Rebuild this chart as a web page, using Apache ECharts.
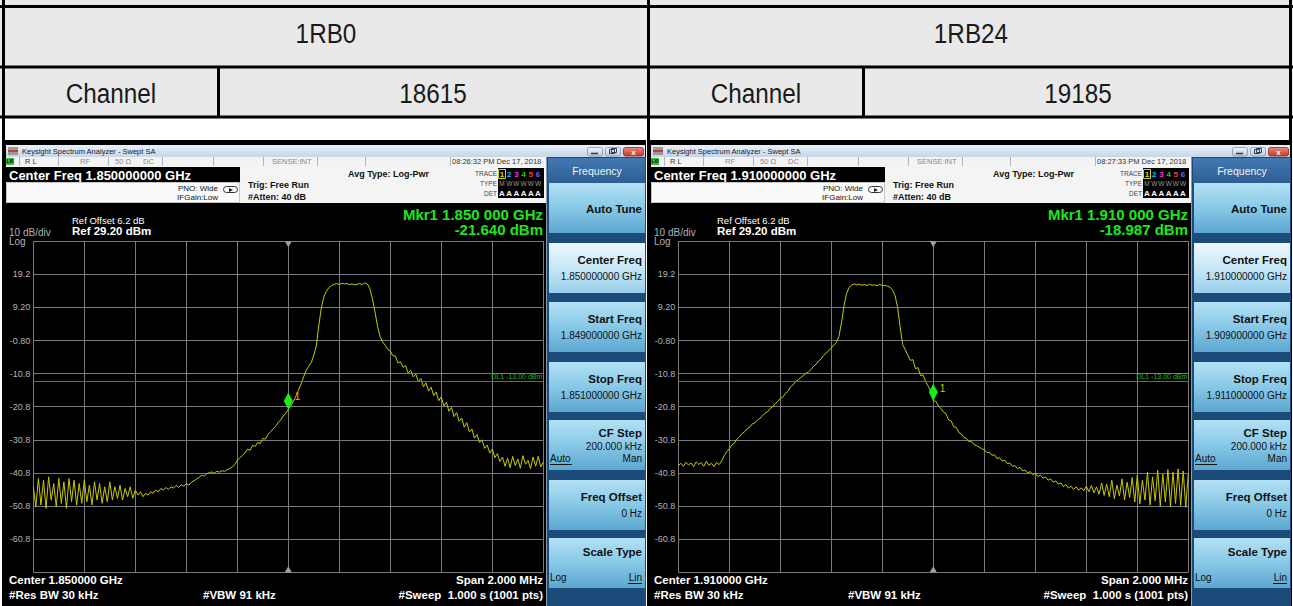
<!DOCTYPE html>
<html>
<head>
<meta charset="utf-8">
<script src="https://cdn.jsdelivr.net/npm/echarts@6/dist/echarts.min.js"></script>
<style>
html,body{margin:0;padding:0;background:#fff;}
#c{width:1293px;height:606px;}
</style>
</head>
<body>
<div id="c"></div>
<script>
// ---- test configuration, one entry per capture ----
const rbLabels = ['1RB0', '1RB24'];
const channelNumbers = ['18615', '19185'];
const centerFreqGHz = ['1.850000000', '1.910000000'];
const centerShortGHz = ['1.850000', '1.910000'];
const startFreqGHz = ['1.849000000', '1.909000000'];
const stopFreqGHz = ['1.851000000', '1.911000000'];
const markerFreqText = ['1.850 000', '1.910 000'];
const markerOffsetKHz = [0, 0];
const markerDbm = [-21.64, -18.987];
const captureTimes = ['08:26:32 PM', '08:27:33 PM'];
const captureDate = 'Dec 17, 2018';

// ---- analyzer scale ----
const refLevelDbm = 29.2;
const bottomDbm = -70.8;
const dbPerDiv = 10;
const displayLineDbm = -13;
const spanKHz = 2000;
const sampleStepKHz = 10;
const yTickLabels = ['19.2', '9.20', '-0.80', '-10.8', '-20.8', '-30.8', '-40.8', '-50.8', '-60.8'];

// ---- trace 1, 10 kHz steps from start to stop frequency (dBm) ----
const traceRB0 = [
  -45, -51, -42.5, -50.5, -43, -51.5, -42, -49, -44, -51,
  -42.5, -50, -43.5, -51.5, -42.5, -49.5, -43, -50.5, -44, -50,
  -43, -49.5, -44.5, -50.5, -43.5, -49, -44, -50, -45, -49.5,
  -43.5, -49, -45, -48.5, -44.5, -49, -45.5, -48, -45, -48.5,
  -46, -47.5, -46.5, -48, -47, -47.5, -46.5, -47, -46, -46.5,
  -45.5, -46, -45.2, -45.8, -45, -45.4, -44.6, -45.2, -44.4, -44.8,
  -44, -44.5, -43.6, -43.2, -42.6, -42.2, -41.5, -41.8, -41, -40.8,
  -40.5, -40.9, -40.3, -40.6, -40.1, -40.4, -39.8, -39.5, -39, -38.3,
  -37, -36.2, -35.5, -34.8, -33.6, -34, -32.5, -32.8, -31.6, -31.9,
  -30.4, -30.6, -29.2, -28.4, -27.5, -26.8, -25.6, -24.8, -23.6, -22.8,
  -21.64, -20.5, -19.2, -17.6, -15.8, -13.9, -11.8, -9.8, -8.6, -7.5,
  -5.2, -2.4, 4, 9.2, 12.6, 14.2, 15.2, 15.8, 16.2, 16.4,
  16.1, 16.5, 16.3, 16.4, 16.1, 16.3, 16.0, 16.2, 16.4, 16.1,
  16.6, 16.3, 14.8, 11.8, 7.8, 3.5, 0.4, -1.3, -2.2, -3.5,
  -4.0, -5.4, -5.5, -7.6, -7.2, -8.9, -8.4, -10.6, -9.8, -11.8,
  -11, -13.2, -12.3, -14.8, -13.6, -16.0, -14.9, -17.4, -16.4, -19.0,
  -17.8, -20.6, -19.5, -22.2, -21.0, -23.8, -22.6, -25.2, -24.2, -27.0,
  -25.6, -28.4, -27.5, -30.3, -29.2, -31.6, -30.8, -33.4, -32.4, -34.8,
  -33.6, -36.2, -35.0, -37.4, -36.0, -38.8, -36.4, -39.2, -35.8, -38.6,
  -36.6, -39.4, -35.6, -38.2, -37, -39.5, -36, -38.8, -35.8, -39,
  -37.5
];

// ---- trace 2, 10 kHz steps from start to stop frequency (dBm) ----
const traceRB24 = [
  -38.6, -37.9, -38.8, -37.6, -38.4, -37.8, -38.9, -37.5, -38.2, -37.7,
  -38.8, -37.3, -38.5, -37.9, -38.9, -37.6, -38.3, -37.2, -35.6, -34.4,
  -33.5, -32.4, -31.8, -30.6, -29.9, -28.9, -28.4, -27.4, -27.0, -26.0,
  -25.7, -24.9, -24.3, -23.6, -22.8, -22.3, -21.4, -20.8, -19.9, -19.2,
  -18.3, -17.9, -16.8, -16.2, -14.8, -14.2, -13.2, -12.7, -12.0, -11.4,
  -10.8, -10.3, -9.6, -8.6, -8.0, -7.0, -6.4, -5.3, -4.6, -3.9,
  -3.0, -2.2, -1.4, 0.4, 4.6, 9.8, 13.4, 15.2, 15.9, 16.3,
  16.0, 16.2, 15.9, 16.1, 15.8, 16.2, 15.9, 16.0, 15.8, 16.2,
  15.7, 15.9, 15.6, 15.3, 14.4, 12.8, 9.2, 3.2, -2.0, -3.6,
  -5.2, -6.8, -6.6, -9.3, -9.0, -11.4, -11.2, -13.2, -14.6, -16.2,
  -18.987, -19.2, -20.6, -21.3, -22.4, -23.0, -24.8, -25.1, -26.8, -27.1,
  -28.6, -29.0, -30.1, -30.4, -31.4, -31.3, -32.3, -32.6, -33.0, -33.5,
  -33.8, -34.6, -34.6, -35.5, -35.3, -36.5, -36.2, -37.2, -37.0, -38.0,
  -37.8, -38.8, -38.6, -39.5, -39.1, -40.2, -39.9, -40.8, -40.4, -41.3,
  -40.9, -41.9, -41.5, -42.4, -42.0, -43.0, -42.6, -43.6, -43.2, -44.2,
  -43.8, -45.0, -44.3, -45.4, -44.8, -45.8, -45.0, -46.0, -45.3, -46.2,
  -44.8, -46.5, -44.6, -46.8, -45.0, -47.2, -43.8, -47.6, -44.2, -48.0,
  -43.0, -48.6, -44.5, -47.8, -42.6, -49.0, -43.6, -48.2, -42.2, -49.6,
  -41.5, -50.2, -43.0, -49.0, -40.5, -50.5, -42.0, -49.2, -40.0, -50.8,
  -41.2, -49.6, -39.8, -51.0, -40.6, -50.0, -39.6, -50.6, -40.2, -51.2,
  -41.0
];
const traces = [traceRB0, traceRB24];

// ---- softkey menu ----
const softkeyTitles = ['Auto Tune', 'Center Freq', 'Start Freq', 'Stop Freq', 'CF Step', 'Freq Offset', 'Scale Type'];

// ------------------------------------------------------------------
const FONT = '"Liberation Sans", Arial, Helvetica, sans-serif';
const PANEL_SHIFT = 645;
const elements = [];

function vgrad(stops) {
  return new echarts.graphic.LinearGradient(0, 0, 0, 1,
    stops.map((s) => ({ offset: s[0], color: s[1] })));
}
function rect(x, y, w, h, fill, stroke, lw, r) {
  elements.push({
    type: 'rect', silent: true,
    shape: { x: x, y: y, width: w, height: h, r: r || 0 },
    style: { fill: fill || 'none', stroke: stroke || null, lineWidth: lw || 0 }
  });
}
function line(x1, y1, x2, y2, color, w) {
  elements.push({
    type: 'line', silent: true,
    shape: { x1: x1, y1: y1, x2: x2, y2: y2 },
    style: { stroke: color, lineWidth: w || 1 }
  });
}
function poly(points, fill) {
  elements.push({ type: 'polygon', silent: true, shape: { points: points }, style: { fill: fill } });
}
function text(x, y, str, size, color, opt) {
  opt = opt || {};
  const al = opt.align || 'left';
  elements.push({
    type: 'text', silent: true, x: x, y: y,
    scaleX: opt.sx || 1,
    style: {
      text: str, fill: color, fontSize: size,
      fontWeight: opt.bold ? 'bold' : 'normal',
      fontFamily: opt.family || FONT,
      align: al, textAlign: al,
      verticalAlign: 'middle', textVerticalAlign: 'middle'
    }
  });
}

// ---- table ----
rect(0, 0, 1293, 606, '#ffffff');
rect(0, 0, 1293, 6, '#e9e9e9');
rect(0, 8, 1293, 58, '#e9e9e9');
rect(0, 68, 1293, 48, '#e9e9e9');
line(0, 6.5, 1293, 6.5, '#000', 3);
line(0, 67, 1293, 67, '#000', 3);
line(0, 117, 1293, 117, '#000', 3);
line(3.5, 0, 3.5, 606, '#000', 3);
line(648.5, 0, 648.5, 606, '#000', 3);
line(1290.5, 0, 1290.5, 606, '#000', 3);
line(218.5, 67, 218.5, 117, '#000', 3);
line(863.5, 67, 863.5, 117, '#000', 3);
for (let p = 0; p < 2; p++) {
  const o = p * PANEL_SHIFT;
  text(326 + o, 34, rbLabels[p], 27, '#1a1a1a', { align: 'center', sx: 0.9 });
  text(111 + o, 94, 'Channel', 27, '#1a1a1a', { align: 'center', sx: 0.9 });
  text(433 + o, 94, channelNumbers[p], 27, '#1a1a1a', { align: 'center', sx: 0.9 });
}

// ---- analyzer window chrome ----
function drawWindow(p) {
  const o = p * PANEL_SHIFT;
  const X = (v) => v + o;

  // frame and black display
  rect(X(5), 140, 641, 466, '#000');

  // title bar
  rect(X(6), 145, 639, 12, vgrad([[0, '#e8f0f9'], [1, '#c5d6ea']]));
  rect(X(8), 147, 10, 8, '#9a9a9a');
  rect(X(8), 150, 10, 2, '#d23a30');
  text(X(22), 151, 'Keysight Spectrum Analyzer - Swept SA', 7.5, '#1b1b1b');
  rect(X(587.5), 147.5, 15, 8.5, vgrad([[0, '#f2f6fb'], [1, '#b7c9e0']]), '#7d93b3', 0.8, 2);
  line(X(591), 153.5, X(598), 153.5, '#2b3c55', 1.5);
  rect(X(605.5), 147.5, 15, 8.5, vgrad([[0, '#f2f6fb'], [1, '#b7c9e0']]), '#7d93b3', 0.8, 2);
  rect(X(609.5), 149.5, 5, 4, null, '#2b3c55', 1);
  rect(X(611.5), 148.5, 5, 4, null, '#2b3c55', 1);
  rect(X(623.5), 147.5, 20, 8.5, vgrad([[0, '#ec8a78'], [1, '#c13a2a']]), '#8a2a20', 0.8, 2);
  text(X(633.5), 152, 'x', 8, '#fff', { align: 'center', bold: true });

  // status row
  rect(X(6), 157, 540, 9, '#f3f3f3');
  [19, 58, 108, 162, 213, 263, 317, 365, 450].forEach((d) => line(X(d) + 0.5, 157, X(d) + 0.5, 166, '#b5b5b5', 1));
  rect(X(6), 158, 8, 7, '#3dbb3d');
  text(X(10), 161.5, 'LXI', 4.5, '#000', { align: 'center', bold: true });
  text(X(25), 161.5, 'R L', 7.5, '#333');
  text(X(80), 161.5, 'RF', 7.5, '#8a8a8a');
  text(X(115), 161.5, '50 \u03a9', 7.5, '#8a8a8a');
  text(X(143), 161.5, 'DC', 7.5, '#8a8a8a');
  text(X(272), 161.5, 'SENSE:INT', 7.5, '#8a8a8a');
  text(X(452), 161.5, captureTimes[p] + ' ' + captureDate, 7.5, '#333');

  // settings header
  rect(X(6), 166, 540, 37, '#f4f4f4');
  rect(X(6), 167, 234, 15, '#000');
  text(X(9), 175, 'Center Freq ' + centerFreqGHz[p] + ' GHz', 13, '#fff', { bold: true });
  rect(X(6.5), 182.5, 233, 20, '#fafafa', '#c6c6c6', 1);
  text(X(218), 188.5, 'PNO: Wide', 8, '#111', { align: 'right' });
  text(X(218), 197.5, 'IFGain:Low', 8, '#111', { align: 'right' });
  rect(X(223.5), 186.5, 14, 6, null, '#333', 1, 3);
  poly([[X(229), 188], [X(233), 190], [X(229), 192]], '#222');
  text(X(248), 185, 'Trig: Free Run', 9, '#111', { bold: true });
  text(X(248), 196.5, '#Atten: 40 dB', 9, '#111', { bold: true });
  text(X(348), 173.5, 'Avg Type: Log-Pwr', 9, '#111', { bold: true });
  text(X(497), 173.5, 'TRACE', 6.5, '#444', { align: 'right' });
  text(X(497), 183.5, 'TYPE', 6.5, '#444', { align: 'right' });
  text(X(497), 193, 'DET', 6.5, '#444', { align: 'right' });
  rect(X(498), 168, 46, 30, '#000');
  const traceColors = ['#d8d800', '#00c8ff', '#ff30ff', '#00dd00', '#ff3838', '#7060ff'];
  for (let k = 0; k < 6; k++) {
    const cx = X(502 + 7.2 * k);
    text(cx, 174, String(k + 1), 8, traceColors[k], { align: 'center', bold: true });
    text(cx, 183.5, k === 0 ? 'M' : 'W', 6.5, '#9a9a9a', { align: 'center' });
    text(cx, 193, 'A', 8, '#fff', { align: 'center', bold: true });
  }
  rect(X(498.5), 169.5, 7, 9, null, '#d8d800', 1);

  // display annotations
  text(X(72), 220, 'Ref Offset 6.2 dB', 9.5, '#fff');
  text(X(72), 231, 'Ref ' + refLevelDbm.toFixed(2) + ' dBm', 11.5, '#fff', { bold: true });
  text(X(9), 232.5, dbPerDiv + ' dB/div', 10, '#b0b0b0');
  text(X(9), 241, 'Log', 10, '#b0b0b0');
  text(X(543), 214, 'Mkr1 ' + markerFreqText[p] + ' GHz', 15, '#1ee61e', { bold: true, align: 'right' });
  text(X(543), 229, markerDbm[p].toFixed(3) + ' dBm', 15, '#1ee61e', { bold: true, align: 'right' });
  text(X(9), 580, 'Center ' + centerShortGHz[p] + ' GHz', 11.5, '#fff', { bold: true });
  text(X(9), 595, '#Res BW 30 kHz', 11.5, '#fff', { bold: true });
  text(X(203), 595, '#VBW 91 kHz', 11.5, '#fff', { bold: true });
  text(X(543), 580, 'Span ' + (spanKHz / 1000).toFixed(3) + ' MHz', 11.5, '#fff', { bold: true, align: 'right' });
  text(X(543), 595, '#Sweep\u00a0 1.000 s (1001 pts)', 11.5, '#fff', { bold: true, align: 'right' });

  // softkey panel
  rect(X(546), 157, 100, 449, '#1c4a79');
  line(X(546.5), 157, X(546.5), 606, '#8a9bb0', 1);
  rect(X(548), 158, 97, 25, vgrad([[0, '#4478b0'], [1, '#2c5e95']]));
  text(X(597), 170.5, 'Frequency', 10.5, '#f0f4fa', { align: 'center' });
  const tops = [183, 243, 302, 362, 420, 480, 538];
  const values = ['', centerFreqGHz[p] + ' GHz', startFreqGHz[p] + ' GHz', stopFreqGHz[p] + ' GHz', '200.000 kHz', '0 Hz', ''];
  for (let k = 0; k < tops.length; k++) {
    const t = tops[k];
    const fill = k === 1
      ? vgrad([[0, '#eef8fd'], [0.5, '#c6e7f6'], [1, '#98d0ec']])
      : vgrad([[0, '#b3e1f4'], [0.45, '#8ccbe8'], [1, '#5ca7d1']]);
    rect(X(549), t, 96, 50, fill);
    const title = softkeyTitles[k];
    if (k === 0) {
      text(X(642), t + 26, title, 11.5, '#111', { bold: true, align: 'right' });
    } else if (k === 4) {
      text(X(642), t + 13, title, 11.5, '#111', { bold: true, align: 'right' });
      text(X(642), t + 26, values[k], 10, '#111', { align: 'right' });
      text(X(550), t + 38, 'Auto', 10, '#111');
      line(X(550), t + 44.5, X(572), t + 44.5, '#111', 1);
      text(X(642), t + 38, 'Man', 10, '#111', { align: 'right' });
    } else if (k === 6) {
      text(X(642), t + 14, title, 11.5, '#111', { bold: true, align: 'right' });
      text(X(550), t + 39, 'Log', 10, '#111');
      text(X(642), t + 39, 'Lin', 10, '#111', { align: 'right' });
      line(X(628), t + 45.5, X(642), t + 45.5, '#111', 1);
    } else {
      text(X(642), t + 17, title, 11.5, '#111', { bold: true, align: 'right' });
      text(X(642), t + 33, values[k], 10, '#111', { align: 'right' });
    }
  }
}
drawWindow(0);
drawWindow(1);

// ---- plot areas ----
const grids = [], xAxes = [], yAxes = [], series = [];
for (let p = 0; p < 2; p++) {
  grids.push({
    left: 33.3 + p * PANEL_SHIFT, top: 241.2, width: 510, height: 331,
    show: true, borderColor: '#9c9c9c', borderWidth: 1, backgroundColor: 'transparent',
    containLabel: false, outerBoundsMode: 'none'
  });
  xAxes.push({
    type: 'value', gridIndex: p, min: -spanKHz / 2, max: spanKHz / 2, interval: spanKHz / 10,
    axisLabel: { show: false }, axisTick: { show: false }, axisLine: { show: false },
    splitLine: { show: true, lineStyle: { color: '#7b7b7b', width: 1 } }
  });
  yAxes.push({
    type: 'value', gridIndex: p, min: bottomDbm, max: refLevelDbm, interval: dbPerDiv,
    axisTick: { show: false }, axisLine: { show: false },
    splitLine: { show: true, lineStyle: { color: '#7b7b7b', width: 1 } },
    axisLabel: {
      show: true, color: '#b4b4b4', fontSize: 9, fontFamily: FONT, margin: 3,
      showMinLabel: true, showMaxLabel: true, hideOverlap: false,
      formatter: (v) => {
        const hit = yTickLabels.find((s) => Math.abs(parseFloat(s) - v) < 0.01);
        return hit || '';
      }
    }
  });
  const tr = traces[p];
  series.push({
    type: 'line', xAxisIndex: p, yAxisIndex: p,
    data: tr.map((v, i) => [-spanKHz / 2 + i * sampleStepKHz, v]),
    symbol: 'none', showSymbol: false, clip: true, silent: true,
    lineStyle: { color: '#c9c900', width: 1 },
    markLine: {
      silent: true, symbol: 'none', animation: false,
      lineStyle: { color: '#1d9a1d', width: 1, type: 'solid' },
      label: {
        show: true, position: 'insideEndTop', distance: 1,
        formatter: 'DL1 ' + displayLineDbm.toFixed(2) + ' dBm',
        color: '#26b026', fontSize: 7, fontFamily: FONT
      },
      data: [{ yAxis: displayLineDbm }]
    },
    markPoint: {
      silent: true, animation: false,
      data: [
        {
          coord: [markerOffsetKHz[p], markerDbm[p]],
          symbol: 'diamond', symbolSize: [9, 17], symbolOffset: [0, -8.5],
          itemStyle: { color: '#18ee18' },
          label: {
            show: true, formatter: '1', position: 'right', distance: 2, offset: [0, -4],
            color: '#c9c900', fontSize: 10, fontFamily: FONT
          }
        },
        {
          coord: [0, refLevelDbm], symbol: 'triangle', symbolRotate: 180,
          symbolSize: [7, 6], symbolOffset: [0, 3],
          itemStyle: { color: '#a0a0a0' }, label: { show: false }
        },
        {
          coord: [0, bottomDbm], symbol: 'triangle',
          symbolSize: [7, 6], symbolOffset: [0, -3],
          itemStyle: { color: '#a0a0a0' }, label: { show: false }
        }
      ]
    }
  });
}

const chart = echarts.init(document.getElementById('c'), null, { renderer: 'svg', width: 1293, height: 606 });
chart.setOption({
  animation: false,
  backgroundColor: '#ffffff',
  graphic: { elements: elements },
  grid: grids,
  xAxis: xAxes,
  yAxis: yAxes,
  series: series
});
</script>
</body>
</html>
